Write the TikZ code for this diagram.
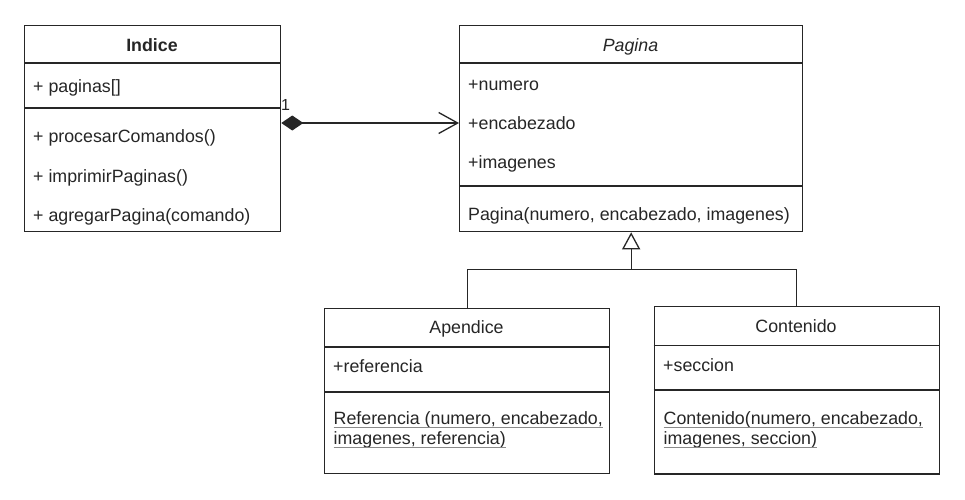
\documentclass[tikz,border=0pt]{standalone}
\usepackage{fontspec}
\setmainfont{Liberation Sans}
\usetikzlibrary{arrows.meta}
\newcommand{\ul}[1]{\tikz[baseline=(t.base)]{\node[inner sep=0pt,outer sep=0pt,text=txt] (t) {#1};\draw[ulc,line width=1pt] ([yshift=-2.6pt]t.base west) -- ([yshift=-2.6pt]t.base east);}}
\definecolor{txt}{HTML}{262626}
\definecolor{ulc}{HTML}{8A8A8A}
\begin{document}
\begin{tikzpicture}[x=1pt,y=-1pt,
  box/.style={draw=black!85,line width=1.3pt,inner sep=0pt,anchor=north west},
  sep/.style={draw=black!85,line width=1.3pt},
  lbl/.style={inner sep=0pt,anchor=base west,text=txt,font=\fontsize{17.8}{21.4}\selectfont},
  ttl/.style={inner sep=0pt,anchor=base,text=txt,font=\fontsize{17.8}{21.4}\selectfont},
  conn/.style={draw=black!85,line width=1.3pt}]
\useasboundingbox (0,0) rectangle (965,499);
\fill[white] (0,0) rectangle (965,499);

% Indice
\node[box,minimum width=256pt,minimum height=206pt] (indice) at (24,25) {};
\draw[sep] (24,63) -- (280,63);
\draw[sep] (24,108) -- (280,108);
\node[ttl,font=\fontsize{17.8}{21.4}\selectfont\bfseries] (indiceT) at (152,51.7) {Indice};
\node[lbl] (ia1) at (33,92.5) {+ paginas[]};
\node[lbl] (im1) at (33,142.5) {+ procesarComandos()};
\node[lbl] (im2) at (33,182) {+ imprimirPaginas()};
\node[lbl] (im3) at (33,221.5) {+ agregarPagina(comando)};

% Pagina
\node[box,minimum width=343pt,minimum height=206pt] (pagina) at (459,25) {};
\draw[sep] (459,63) -- (802,63);
\draw[sep] (459,186) -- (802,186);
\node[ttl,font=\fontsize{17.8}{21.4}\selectfont\itshape] (paginaT) at (630.5,51.7) {Pagina};
\node[lbl] (pa1) at (468,90.5) {+numero};
\node[lbl] (pa2) at (468,129.5) {+encabezado};
\node[lbl] (pa3) at (468,168.5) {+imagenes};
\node[lbl] (pm1) at (468,220) {Pagina(numero, encabezado, imagenes)};

% Apendice
\node[box,minimum width=285pt,minimum height=164.5pt] (apendice) at (324,308) {};
\draw[sep] (324,347) -- (609,347);
\draw[sep] (324,392) -- (609,392);
\node[ttl] (apendiceT) at (466.5,333.3) {Apendice};
\node[lbl] (aa1) at (333,372.7) {+referencia};
\node[lbl] (am1) at (333,424.5) {\ul{Referencia (numero, encabezado,}};
\node[lbl] (am2) at (333,444.5) {\ul{imagenes, referencia)}};

% Contenido
\node[box,minimum width=285pt,minimum height=167.5pt] (contenido) at (653.5,305.7) {};
\draw[sep] (653.5,345.5) -- (938.5,345.5);
\draw[sep] (653.5,390) -- (938.5,390);
\node[ttl] (contenidoT) at (796,332.5) {Contenido};
\node[lbl] (ca1) at (663,371.7) {+seccion};
\node[lbl] (cm1) at (663,424.5) {\ul{Contenido(numero, encabezado,}};
\node[lbl] (cm2) at (663,444.5) {\ul{imagenes, seccion)}};

% composition
\coordinate (cs) at (indice.east |- 0,123);
\coordinate (ce) at (pagina.west |- 0,123);
\draw[conn,{Diamond[length=22pt,width=15pt]}-{Straight Barb[length=19pt,width=21pt,line width=1.3pt]}] (cs) -- (ce);
\node[inner sep=0pt,anchor=base west,text=txt,font=\fontsize{16}{19}\selectfont] (mult) at (281,110) {1};

% generalization
\coordinate (j) at (pagina.south |- 0,269.5);
\draw[conn,-{Triangle[open,length=17pt,width=18pt,fill=white]}] (apendice.north) |- (j) -- (pagina.south);
\draw[conn] (contenido.north) |- (j);
\end{tikzpicture}
\end{document}
